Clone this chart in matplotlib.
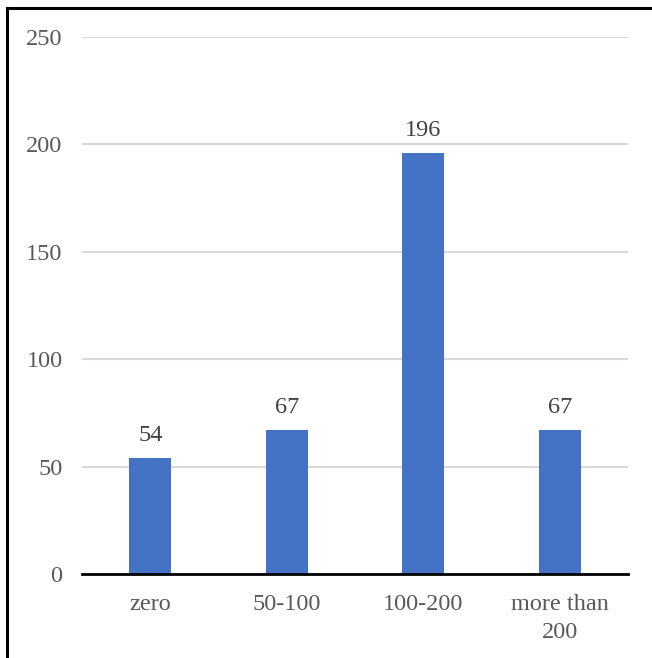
import matplotlib
matplotlib.use("Agg")
import matplotlib.pyplot as plt
from matplotlib.lines import Line2D

categories = ["zero", "50-100", "100-200", "more than\n200"]
values = [54, 67, 196, 67]
y_ticks = [0, 50, 100, 150, 200, 250]

W, H, DPI = 652, 658, 100
fig = plt.figure(figsize=(W / DPI, H / DPI), dpi=DPI)
plt.rcParams["font.family"] = ["Liberation Serif", "DejaVu Serif"]
FS = 17.5

# plot area in pixel coordinates
x0, x1 = 82, 628
y_top, y_bot = 37, 574
ax = fig.add_axes([x0 / W, 1 - y_bot / H, (x1 - x0) / W, (y_bot - y_top) / H])

xs = range(len(categories))
ax.bar(xs, values, width=0.31, color="#4472C4", zorder=3)
for x, v in zip(xs, values):
    ax.annotate(str(v), xy=(x, v), xytext=(0, 12), textcoords="offset points",
                ha="center", va="baseline", fontsize=FS, color="#404040")

ax.set_xlim(-0.5, len(categories) - 0.5)
ax.set_ylim(0, 250)
ax.set_yticks(y_ticks)
ax.set_yticklabels([str(t) for t in y_ticks])
ax.set_xticks(list(xs))
ax.set_xticklabels(categories, linespacing=1.4)
ax.tick_params(axis="both", length=0, labelsize=FS, labelcolor="#595959")
ax.tick_params(axis="y", pad=14)
ax.tick_params(axis="x", pad=14.5)

ax.yaxis.grid(True, color="#D9D9D9", linewidth=1.5, zorder=0)
for side in ("top", "right", "left"):
    ax.spines[side].set_visible(False)
ax.spines["bottom"].set_color("black")
ax.spines["bottom"].set_linewidth(2)
ax.spines["bottom"].set_zorder(4)

# frame around the chart (left and top edges)
fx, fy = 6.5 / W, 1 - 7.5 / H
fig.add_artist(Line2D([fx, fx], [0, fy], transform=fig.transFigure, color="black", linewidth=2.2))
fig.add_artist(Line2D([fx, 1], [fy, fy], transform=fig.transFigure, color="black", linewidth=2.2))

fig.savefig("out.png", dpi=DPI, facecolor="white")
